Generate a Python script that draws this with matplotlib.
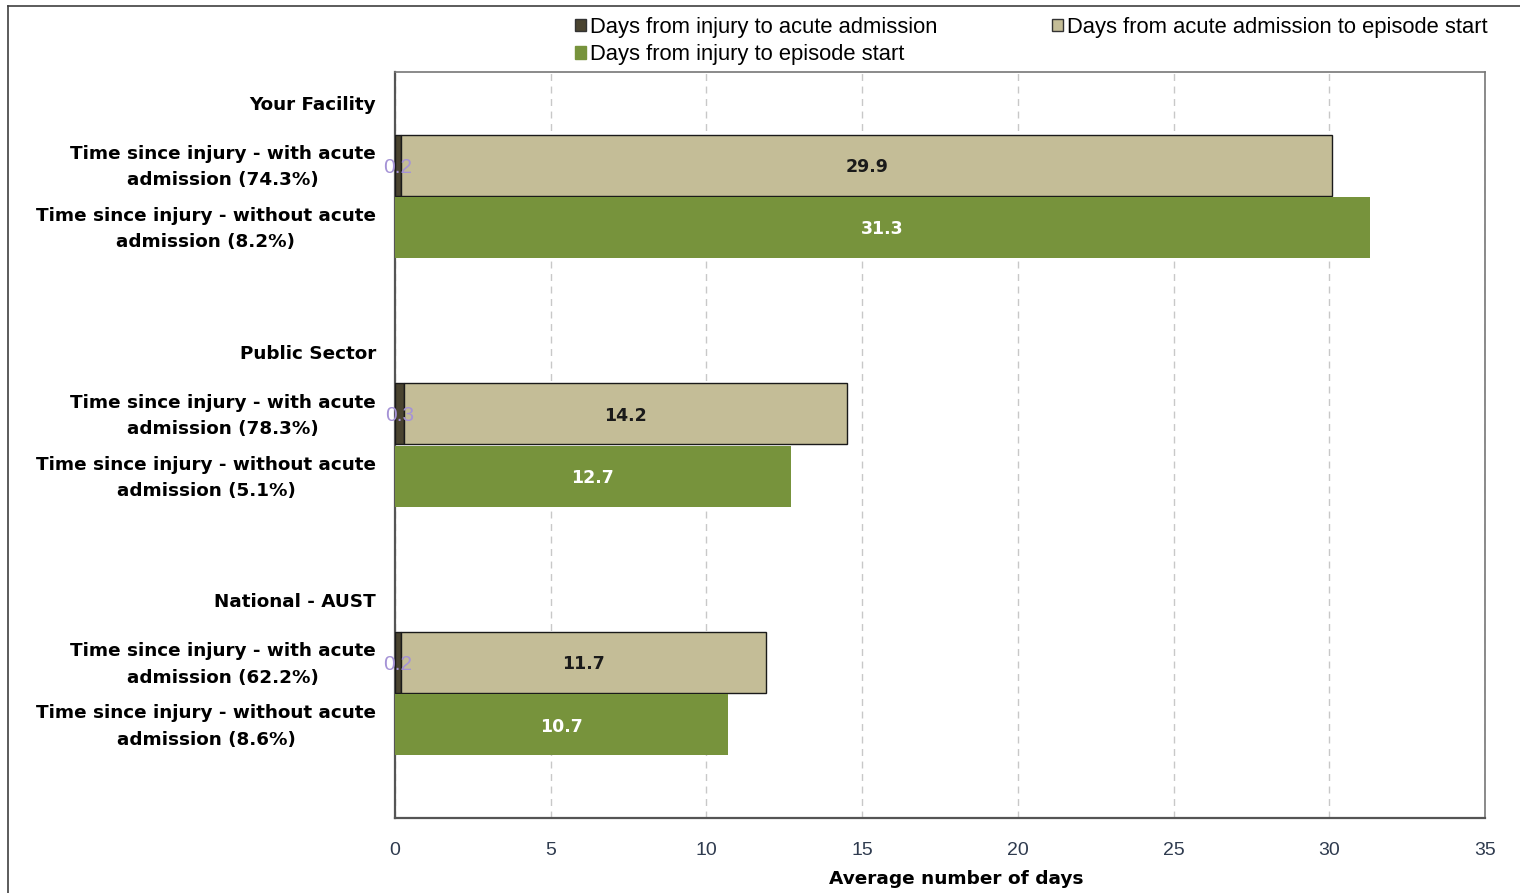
import matplotlib
matplotlib.use("Agg")
import matplotlib.pyplot as plt
from matplotlib.patches import Patch
from matplotlib.lines import Line2D

groups = ["Your Facility", "Public Sector", "National - AUST"]
with_pct = ["74.3%", "78.3%", "62.2%"]
without_pct = ["8.2%", "5.1%", "8.6%"]
injury_to_acute = [0.2, 0.3, 0.2]
acute_to_episode = [29.9, 14.2, 11.7]
injury_to_episode = [31.3, 12.7, 10.7]
xticks = [0, 5, 10, 15, 20, 25, 30, 35]

c_dark = "#4a4430"
c_tan = "#c4bd97"
c_green = "#77933c"

fig = plt.figure(figsize=(15.2, 8.93), dpi=100)
ax = fig.add_axes([395/1520, 75/893, 1090/1520, 746/893])

# outer frame lines
fig.add_artist(Line2D([8/1520, 8/1520], [0, 1 - 6/893], color="#404040", lw=1.2))
fig.add_artist(Line2D([8/1520, 1], [1 - 6/893, 1 - 6/893], color="#404040", lw=1.2))

ytr = ax.get_yaxis_transform()
lab_x = -19 / 1090
lab_kw = dict(transform=ytr, ha="right", va="center", fontsize=13.2, fontweight="bold",
              color="black", multialignment="center", linespacing=1.6)
for i, g in enumerate(groups):
    base = i * 4
    yw = base + 1
    yn = base + 2
    ax.text(lab_x, base + 0.03, g, **lab_kw)
    ax.text(lab_x, yw + 0.03, f"Time since injury - with acute\nadmission ({with_pct[i]})", **lab_kw)
    ax.text(lab_x, yn + 0.03, f"Time since injury - without acute\nadmission ({without_pct[i]})", **lab_kw)
    ax.barh(yw, injury_to_acute[i], height=0.98, color=c_dark,
            edgecolor="#1a1a1a", lw=1, zorder=3)
    ax.barh(yw, acute_to_episode[i], left=injury_to_acute[i], height=0.98,
            color=c_tan, edgecolor="#1a1a1a", lw=1, zorder=3)
    ax.barh(yn, injury_to_episode[i], height=0.98, color=c_green, lw=0, zorder=3)
    ax.text(injury_to_acute[i] / 2, yw + 0.03, f"{injury_to_acute[i]}", ha="center",
            va="center", color="#a593d6", fontsize=15, family="Liberation Sans", zorder=5)
    ax.text(injury_to_acute[i] + acute_to_episode[i] / 2, yw + 0.03, f"{acute_to_episode[i]}",
            ha="center", va="center", color="#1a1a1a", fontsize=12.5, fontweight="bold", zorder=5)
    ax.text(injury_to_episode[i] / 2, yn + 0.03, f"{injury_to_episode[i]}",
            ha="center", va="center", color="white", fontsize=12.5, fontweight="bold", zorder=5)

ax.set_ylim(11.5, -0.5)
ax.set_xlim(0, 35)
ax.set_yticks([])
ax.set_xticks(xticks)
ax.set_xticklabels([str(t) for t in xticks], fontsize=14, family="Liberation Sans",
                   color="#2f3b4f")
ax.tick_params(axis="x", length=0, pad=17)
ax.set_xlabel("Average number of days", fontsize=13.3, fontweight="bold")
ax.xaxis.set_label_coords((956 - 395) / 1090, -52 / 746)
ax.grid(axis="x", color="#c8c8c8", linestyle=(0, (5, 4)), lw=1, zorder=0)
for s in ["left", "bottom"]:
    ax.spines[s].set_color("#555555")
    ax.spines[s].set_linewidth(1.6)
for s in ["top", "right"]:
    ax.spines[s].set_color("#777777")
    ax.spines[s].set_linewidth(1.2)

handles = [Patch(facecolor=c_dark, edgecolor="#333333"),
           Patch(facecolor=c_green, edgecolor=c_green),
           Patch(facecolor=c_tan, edgecolor="#333333")]
labels = ["Days from injury to acute admission", "Days from injury to episode start",
          "Days from acute admission to episode start"]
fig.legend(handles, labels, ncol=2, loc="upper left", bbox_to_anchor=(575/1520, 1 - 17/893),
           frameon=False, prop={"family": "Liberation Sans", "size": 15.8},
           handlelength=0.5, handleheight=0.5, handletextpad=0.2, columnspacing=5.2,
           labelspacing=0.28, borderpad=0, borderaxespad=0)

fig.savefig("out.png", dpi=100)
